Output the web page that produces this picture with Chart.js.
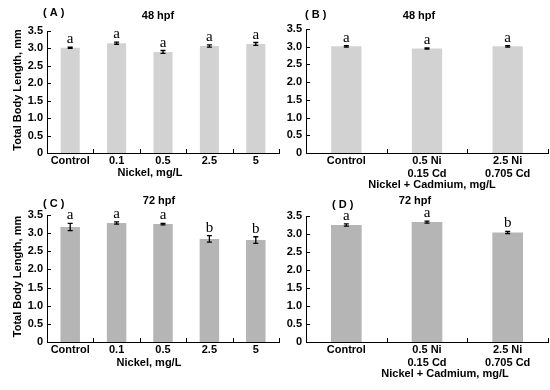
<!DOCTYPE html>
<html>
<head>
<meta charset="utf-8">
<script src="https://cdn.jsdelivr.net/npm/chart.js@4.4.1/dist/chart.umd.min.js"></script>
<style>
  body { margin: 0; background: #fff; }
  #wrap { position: relative; width: 550px; height: 390px; }
  canvas { position: absolute; }
</style>
</head>
<body>
<div id="wrap">
  <canvas id="pA" width="280" height="190" style="left:0;top:0"></canvas>
  <canvas id="pB" width="270" height="190" style="left:280px;top:0"></canvas>
  <canvas id="pC" width="280" height="200" style="left:0;top:190px"></canvas>
  <canvas id="pD" width="270" height="200" style="left:280px;top:190px"></canvas>
</div>
<script>
// categories
const nickelDoses = ['Control', '0.1', '0.5', '2.5', '5'];
const mixDoses = ['Control', ['0.5 Ni', '0.15 Cd'], ['2.5 Ni', '0.705 Cd']];

// body length (mm), error bars and letters
const lenA = [3.02, 3.15, 2.90, 3.07, 3.13];
const errA = [0.02, 0.03, 0.04, 0.03, 0.04];
const sigA = ['a', 'a', 'a', 'a', 'a'];

const lenB = [3.01, 2.95, 3.01];
const errB = [0.02, 0.02, 0.02];
const sigB = ['a', 'a', 'a'];

const lenC = [3.17, 3.28, 3.25, 2.84, 2.81];
const errC = [0.10, 0.03, 0.02, 0.09, 0.09];
const sigC = ['a', 'a', 'a', 'b', 'b'];

const lenD = [3.25, 3.33, 3.04];
const errD = [0.03, 0.03, 0.03];
const sigD = ['a', 'a', 'b'];

const yMax = 3.5;
const yStep = 0.5;

Chart.defaults.font.family = '"Liberation Sans", Arial, sans-serif';
Chart.defaults.color = '#000';

const SANS = '"Liberation Sans", Arial, sans-serif';

// error bars, letters, inward ticks and the panel texts
const extras = {
    id: 'extras',
    afterDatasetsDraw(chart, args, o) {
        const ctx = chart.ctx;
        const x = chart.scales.x, y = chart.scales.y;
        const vals = chart.data.datasets[0].data;
        ctx.save();
        ctx.strokeStyle = '#000';
        ctx.fillStyle = '#000';
        ctx.lineWidth = 1.3;
        vals.forEach((v, i) => {
            const px = x.getPixelForValue(i);
            const top = y.getPixelForValue(v + o.err[i]);
            const bot = y.getPixelForValue(v - o.err[i]);
            ctx.beginPath();
            ctx.moveTo(px, top); ctx.lineTo(px, bot);
            ctx.moveTo(px - 2.5, top); ctx.lineTo(px + 2.5, top);
            ctx.moveTo(px - 2.5, bot); ctx.lineTo(px + 2.5, bot);
            ctx.stroke();
            ctx.font = '15px "Liberation Serif", "Times New Roman", serif';
            ctx.textAlign = 'center';
            ctx.textBaseline = 'alphabetic';
            ctx.fillText(o.sig[i], px, top - 4);
        });

        // ticks pointing into the plot
        ctx.lineWidth = 1;
        ctx.beginPath();
        y.ticks.forEach((t, i) => {
            const py = Math.round(y.getPixelForTick(i)) + 0.5;
            ctx.moveTo(y.right, py); ctx.lineTo(y.right + 4, py);
        });
        for (let i = 0; i <= vals.length; i++) {
            const px = Math.round(x.getPixelForValue(i - 0.5)) + 0.5;
            ctx.moveTo(px, x.top); ctx.lineTo(px, x.top - 4);
        }
        ctx.stroke();

        ctx.font = 'bold 11px ' + SANS;
        ctx.textBaseline = 'middle';
        ctx.textAlign = 'left';
        ctx.fillText(o.tag, o.tagX, o.tagY);
        ctx.textAlign = 'center';
        ctx.fillText(o.title, o.titleX, o.titleY);
        ctx.fillText(o.xTitle, o.xTitleX, o.xTitleY);
        if (o.yTitle) {
            ctx.translate(18, (y.top + y.bottom) / 2 - 2);
            ctx.rotate(-Math.PI / 2);
            ctx.fillText(o.yTitle, 0, 0);
        }
        ctx.restore();
    }
};

function panel(id, labels, values, extra, box, color, barPct) {
    const cv = document.getElementById(id);
    new Chart(cv, {
        type: 'bar',
        data: {
            labels: labels,
            datasets: [{
                data: values,
                backgroundColor: color,
                borderWidth: 0,
                barPercentage: barPct,
                categoryPercentage: 1
            }]
        },
        options: {
            responsive: false,
            animation: false,
            devicePixelRatio: 1,
            layout: { padding: { left: 0, top: box.top, right: cv.width - box.right, bottom: 0 } },
            plugins: { legend: { display: false }, tooltip: { enabled: false }, extras: extra },
            scales: {
                x: {
                    grid: { display: false, drawTicks: false },
                    border: { display: true, color: '#000', width: 1 },
                    ticks: { font: { size: 11, weight: 'bold', lineHeight: 1.18 }, padding: 1, maxRotation: 0, autoSkip: false },
                    afterFit: s => { s.height = cv.height - box.bottom; }
                },
                y: {
                    min: 0, max: yMax,
                    grid: { display: false, drawTicks: false },
                    border: { display: true, color: '#000', width: 1 },
                    ticks: {
                        stepSize: yStep,
                        font: { size: 11, weight: 'bold' },
                        padding: 4,
                        callback: v => v === 0 ? '0' : v.toFixed(1)
                    },
                    afterFit: s => { s.width = box.left; }
                }
            }
        },
        plugins: [extras]
    });
}

const light = '#d2d2d2';
const dark = '#b5b5b5';

panel('pA', nickelDoses, lenA,
    { err: errA, sig: sigA, tag: '( A )', tagX: 43, tagY: 13, title: '48 hpf', titleX: 158, titleY: 16,
      xTitle: 'Nickel, mg/L', xTitleX: 150, xTitleY: 173, yTitle: 'Total Body Length, mm' },
    { left: 47, top: 31, right: 279, bottom: 153 }, light, 0.41);

panel('pB', mixDoses, lenB,
    { err: errB, sig: sigB, tag: '( B )', tagX: 25, tagY: 15, title: '48 hpf', titleX: 139, titleY: 16,
      xTitle: 'Nickel + Cadmium, mg/L', xTitleX: 152, xTitleY: 185, yTitle: null },
    { left: 26, top: 29, right: 268, bottom: 153 }, light, 0.375);

panel('pC', nickelDoses, lenC,
    { err: errC, sig: sigC, tag: '( C )', tagX: 43, tagY: 14, title: '72 hpf', titleX: 159, titleY: 11,
      xTitle: 'Nickel, mg/L', xTitleX: 149, xTitleY: 173, yTitle: 'Total Body Length, mm' },
    { left: 47, top: 25, right: 279, bottom: 152 }, dark, 0.42);

panel('pD', mixDoses, lenD,
    { err: errD, sig: sigD, tag: '( D )', tagX: 52, tagY: 15, title: '72 hpf', titleX: 135, titleY: 11,
      xTitle: 'Nickel + Cadmium, mg/L', xTitleX: 165, xTitleY: 184, yTitle: null },
    { left: 26, top: 26, right: 268, bottom: 152 }, dark, 0.38);
</script>
</body>
</html>
